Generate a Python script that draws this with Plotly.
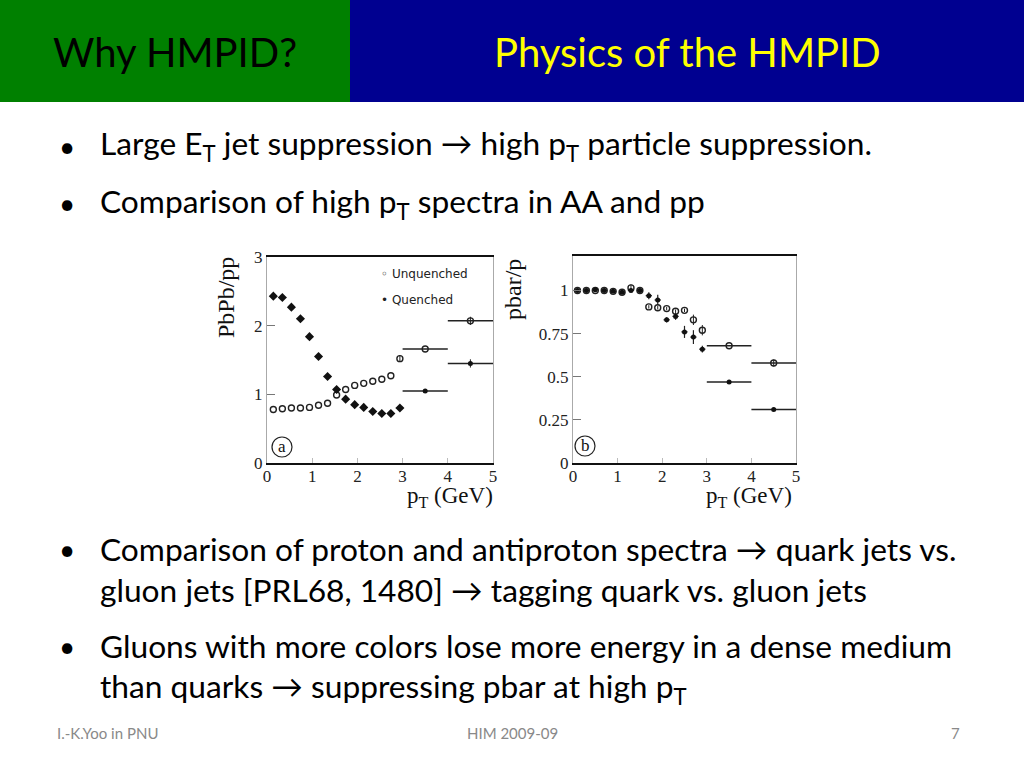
import plotly.graph_objects as go

# ---------------- data ----------------
a_x = [0.14, 0.34, 0.54, 0.74, 0.94, 1.14, 1.34, 1.54, 1.74, 1.94, 2.14, 2.34, 2.54, 2.74, 2.94]
a_quenched = [2.43, 2.41, 2.27, 2.10, 1.84, 1.55, 1.26, 1.07, 0.93, 0.85, 0.81, 0.75, 0.72, 0.72, 0.80]
a_unquenched = [0.78, 0.79, 0.80, 0.80, 0.81, 0.84, 0.87, 0.99, 1.07, 1.13, 1.16, 1.19, 1.22, 1.27, 1.52]
a_unq_err = [0, 0, 0, 0, 0, 0, 0, 0, 0, 0, 0, 0, 0, 0, 0.05]
bin_x = [3.5, 4.5]
bin_halfwidth = [0.5, 0.5]
a_bin_quenched = [1.05, 1.45]
a_bin_q_err = [0.0, 0.06]
a_bin_unquenched = [1.66, 2.07]
a_bin_u_err = [0.0, 0.06]

b_x = [0.1, 0.3, 0.5, 0.7, 0.9, 1.1, 1.3, 1.5, 1.7, 1.9, 2.1, 2.3, 2.5, 2.7, 2.9]
b_quenched = [1.00, 1.00, 1.005, 1.00, 0.995, 0.99, 1.00, 1.00, 0.97, 0.945, 0.83, 0.85, 0.76, 0.73, 0.66]
b_q_err = [0.005, 0.005, 0.005, 0.005, 0.005, 0.005, 0.01, 0.01, 0.02, 0.03, 0.015, 0.02, 0.035, 0.04, 0.02]
b_unquenched = [1.00, 1.00, 1.00, 1.00, 0.995, 0.99, 1.015, 1.00, 0.905, 0.90, 0.895, 0.88, 0.885, 0.83, 0.77]
b_u_err = [0, 0, 0, 0, 0, 0, 0.02, 0.01, 0.01, 0.01, 0.01, 0.01, 0.01, 0.03, 0.03]
b_bin_quenched = [0.47, 0.31]
b_bin_unquenched = [0.68, 0.58]
b_bin_u_err = [0.0, 0.02]

a_yticks = [0, 1, 2, 3]
b_yticks = [0, 0.25, 0.5, 0.75, 1]
b_yticklabels = ["0", "0.25", "0.5", "0.75", "1"]
x_ticks = [0, 1, 2, 3, 4, 5]

W, H = 1024, 768
def px(x):
    return x / W
def py(y):
    return 1 - y / H

SERIF = "Liberation Serif"
SANS = "Lato"

fig = go.Figure()

# ---- panel a ----
fig.add_trace(go.Scatter(x=a_x, y=a_unquenched, mode="markers", xaxis="x", yaxis="y",
                         marker=dict(symbol="circle-open", size=6, color="#222", line=dict(width=1.4)),
                         error_y=dict(type="data", array=a_unq_err, width=0, thickness=1, color="#222"),
                         showlegend=False))
fig.add_trace(go.Scatter(x=a_x, y=a_quenched, mode="markers", xaxis="x", yaxis="y",
                         marker=dict(symbol="diamond", size=7, color="#111"),
                         showlegend=False))
fig.add_trace(go.Scatter(x=bin_x, y=a_bin_unquenched, mode="markers", xaxis="x", yaxis="y",
                         marker=dict(symbol="circle-open", size=6, color="#222", line=dict(width=1.4)),
                         error_x=dict(type="data", array=bin_halfwidth, width=0, thickness=1.5, color="#222"),
                         error_y=dict(type="data", array=a_bin_u_err, width=0, thickness=1, color="#222"),
                         showlegend=False))
fig.add_trace(go.Scatter(x=bin_x, y=a_bin_quenched, mode="markers", xaxis="x", yaxis="y",
                         marker=dict(symbol="circle", size=5, color="#111"),
                         error_x=dict(type="data", array=bin_halfwidth, width=0, thickness=1.5, color="#222"),
                         error_y=dict(type="data", array=a_bin_q_err, width=0, thickness=1, color="#222"),
                         showlegend=False))

# ---- panel b ----
fig.add_trace(go.Scatter(x=b_x, y=b_unquenched, mode="markers", xaxis="x2", yaxis="y2",
                         marker=dict(symbol="circle-open", size=6, color="#222", line=dict(width=1.4)),
                         error_y=dict(type="data", array=b_u_err, width=0, thickness=1, color="#222"),
                         showlegend=False))
fig.add_trace(go.Scatter(x=b_x, y=b_quenched, mode="markers", xaxis="x2", yaxis="y2",
                         marker=dict(symbol="circle", size=5, color="#111"),
                         error_x=dict(type="constant", value=0.07, width=0, thickness=1.2, color="#222"),
                         error_y=dict(type="data", array=b_q_err, width=0, thickness=1.2, color="#222"),
                         showlegend=False))
fig.add_trace(go.Scatter(x=bin_x, y=b_bin_unquenched, mode="markers", xaxis="x2", yaxis="y2",
                         marker=dict(symbol="circle-open", size=6, color="#222", line=dict(width=1.4)),
                         error_x=dict(type="data", array=bin_halfwidth, width=0, thickness=1.5, color="#222"),
                         error_y=dict(type="data", array=b_bin_u_err, width=0, thickness=1, color="#222"),
                         showlegend=False))
fig.add_trace(go.Scatter(x=bin_x, y=b_bin_quenched, mode="markers", xaxis="x2", yaxis="y2",
                         marker=dict(symbol="circle", size=5, color="#111"),
                         error_x=dict(type="data", array=bin_halfwidth, width=0, thickness=1.5, color="#222"),
                         showlegend=False))

tickfont = dict(family=SERIF, size=17, color="#222")
xaxis_common = dict(range=[0, 5], tickvals=x_ticks, showline=True, linewidth=2, linecolor="#111",
                    mirror=True, ticks="inside", ticklen=5, tickcolor="#bbb", showgrid=False,
                    zeroline=False, tickfont=tickfont, fixedrange=True, automargin=False,
                    ticklabelstandoff=-3)
yaxis_common = dict(showline=True, linewidth=1, linecolor="#aaa", mirror=True, ticks="inside",
                    ticklen=8, tickcolor="#777", showgrid=False, zeroline=False, tickfont=tickfont,
                    fixedrange=True, automargin=False)

fig.update_layout(
    width=W, height=H, margin=dict(l=0, r=0, t=0, b=0, pad=0, autoexpand=False),
    paper_bgcolor="white", plot_bgcolor="white",
    xaxis=dict(domain=[px(267), px(493)], anchor="y", **xaxis_common),
    yaxis=dict(domain=[py(463), py(257)], anchor="x", range=[0, 3], tickvals=a_yticks, **yaxis_common),
    xaxis2=dict(domain=[px(573), px(796)], anchor="y2", **xaxis_common),
    yaxis2=dict(domain=[py(463), py(256)], anchor="x2", range=[0, 1.2], tickvals=b_yticks,
                ticktext=b_yticklabels, **yaxis_common),
)

shapes = [
    dict(type="rect", xref="paper", yref="paper", x0=px(0), x1=px(350), y0=py(102), y1=py(0),
         fillcolor="#008000", line=dict(width=0), layer="below"),
    dict(type="rect", xref="paper", yref="paper", x0=px(350), x1=px(1024), y0=py(102), y1=py(0),
         fillcolor="#000090", line=dict(width=0), layer="below"),
    dict(type="circle", xref="paper", yref="paper", x0=px(272), x1=px(292), y0=py(457), y1=py(437),
         line=dict(color="#222", width=1.2)),
    dict(type="circle", xref="paper", yref="paper", x0=px(575), x1=px(595), y0=py(456), y1=py(436),
         line=dict(color="#222", width=1.2)),
]
fig.update_layout(shapes=shapes)

ann = []
def text(x, y, t, size, color="black", family=SANS, xanchor="left", angle=0):
    ann.append(dict(x=px(x), y=py(y), xref="paper", yref="paper", text=t, showarrow=False,
                    xanchor=xanchor, yanchor="middle", textangle=angle,
                    font=dict(family=family, size=size, color=color)))

# header
text(175, 52, "Why HMPID?", 40, "black", xanchor="center")
text(687, 52, "Physics of the HMPID", 40, "#FFFF00", xanchor="center")

# bullets
bullets = [
    (146, True, "Large E<sub>T</sub> jet suppression → high p<sub>T</sub> particle suppression."),
    (203, True, "Comparison of high p<sub>T</sub> spectra in AA and pp"),
    (549, True, "Comparison of proton and antiproton spectra → quark jets vs."),
    (590, False, "gluon jets [PRL68, 1480] → tagging quark vs. gluon jets"),
    (646, True, "Gluons with more colors lose more energy in a dense medium"),
    (688, False, "than quarks → suppressing pbar at high p<sub>T</sub>"),
]
for y, has_bullet, t in bullets:
    if has_bullet:
        text(57, y, "•", 28)
    text(98, y, t, 31.7)

# panel labels / legend
text(226, 298, "PbPb/pp", 24, "#111", family=SERIF, xanchor="center", angle=-90)
text(513, 290, "pbar/p", 24, "#111", family=SERIF, xanchor="center", angle=-90)
text(450, 497, "p<sub>T</sub> (GeV)", 23, "#111", family=SERIF, xanchor="center")
text(749, 497, "p<sub>T</sub> (GeV)", 23, "#111", family=SERIF, xanchor="center")
text(282, 446, "a", 17, "#111", family=SERIF, xanchor="center")
text(585, 445, "b", 17, "#111", family=SERIF, xanchor="center")
text(379, 274, "◦ Unquenched", 12, "#222", family="DejaVu Sans")
text(379, 300, "• Quenched", 12, "#222", family="DejaVu Sans")

# footer
text(55, 733, "I.-K.Yoo in PNU", 15, "#898989")
text(512, 733, "HIM 2009-09", 15, "#898989", xanchor="center")
text(962, 733, "7", 15, "#898989", xanchor="right")

fig.update_layout(annotations=ann)
fig.write_html(
    "out.html",
    config={"displayModeBar": False, "staticPlot": True},
    post_script=("document.documentElement.style.overflow='hidden';"
                 "document.body.style.margin='0';document.body.style.overflow='hidden';"
                 "var gd=document.getElementById('{plot_id}');"
                 "gd.style.position='fixed';gd.style.left='0px';gd.style.top='0px';"),
)
